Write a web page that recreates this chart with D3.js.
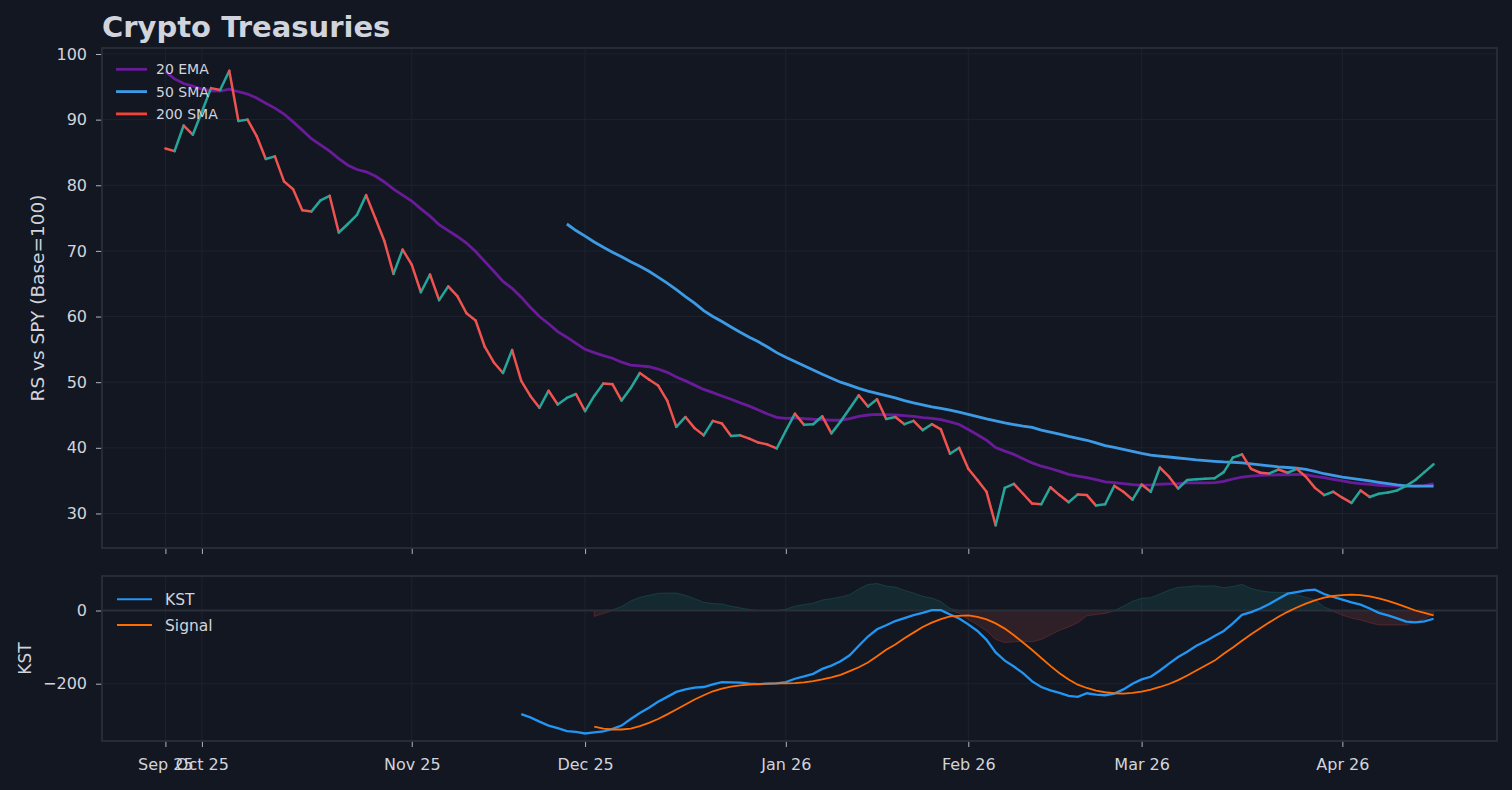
<!DOCTYPE html>
<html>
<head>
<meta charset="utf-8">
<script src="https://cdn.jsdelivr.net/npm/d3@7"></script>
<style>
  html, body { margin: 0; padding: 0; background: #131722; }
  svg { display: block; font-family: "DejaVu Sans", sans-serif; }
</style>
</head>
<body>
<div id="grafica"></div>
<script>
  // ejes: un punto por sesion, etiqueta en la primera sesion de cada mes
  const tickIdx = [0, 4, 27, 46, 68, 88, 107, 129];
  const tickLabels = ["Sep 25", "Oct 25", "Nov 25", "Dec 25", "Jan 26", "Feb 26", "Mar 26", "Apr 26"];
  const rsTicks = [30, 40, 50, 60, 70, 80, 90, 100];
  const kstTicks = [-200, 0];

  // RS vs SPY (base 100)
  const rs = [
    85.6, 85.2, 89.1, 87.7, 91.2, 94.8, 94.5, 97.45, 89.8, 90.0,
    87.5, 84.0, 84.4, 80.6, 79.4, 76.2, 76.0, 77.7, 78.4, 72.8,
    74.1, 75.5, 78.5, 75.0, 71.5, 66.5, 70.2, 67.9, 63.7, 66.4,
    62.5, 64.6, 63.1, 60.5, 59.4, 55.4, 53.0, 51.4, 54.9, 50.2,
    47.9, 46.1, 48.7, 46.6, 47.6, 48.2, 45.6, 47.9, 49.8, 49.7,
    47.2, 49.1, 51.4, 50.4, 49.5, 47.2, 43.2, 44.7, 43.0, 41.9,
    44.1, 43.7, 41.8, 41.9, 41.4, 40.8, 40.5, 39.9, 42.6, 45.2,
    43.5, 43.6, 44.8, 42.2, 44.0, 46.0, 48.0, 46.3, 47.4, 44.4,
    44.7, 43.6, 44.1, 42.7, 43.6, 42.8, 39.1, 40.0, 36.8, 35.1,
    33.3, 28.2, 33.9, 34.5, 33.0, 31.5, 31.4, 34.0, 32.8, 31.7,
    32.9, 32.8, 31.2, 31.4, 34.2, 33.3, 32.1, 34.4, 33.3, 37.0,
    35.6, 33.8, 35.1, 35.2, 35.3, 35.35, 36.3, 38.5, 39.0, 36.8,
    36.2, 36.1, 36.7, 36.2, 36.8, 35.6, 33.9, 32.8, 33.3, 32.4,
    31.6, 33.5, 32.5, 33.0, 33.2, 33.5, 34.2, 35.1, 36.3, 37.5
  ];

  const ema20 = [
    97.3, 96.2, 95.5, 95.1, 94.65, 94.4, 94.35, 94.65, 94.25, 93.9,
    93.3, 92.5, 91.75, 90.85, 89.65, 88.4, 87.1, 86.15, 85.2, 84.05,
    83.05, 82.4, 82.05, 81.4, 80.5, 79.4, 78.5, 77.6, 76.4, 75.3,
    74.0, 73.1, 72.2, 71.2, 69.9, 68.4, 66.9, 65.35, 64.3, 62.95,
    61.4, 60.0, 58.9, 57.7, 56.85, 55.9, 55.0, 54.5, 54.05, 53.65,
    53.05, 52.6, 52.5, 52.35, 52.0, 51.5, 50.8, 50.2, 49.55, 48.9,
    48.4, 47.9, 47.4, 46.85, 46.35, 45.75, 45.15, 44.65, 44.5, 44.55,
    44.45, 44.35, 44.3, 44.2, 44.2, 44.45, 44.8, 45.0, 45.1, 45.05,
    45.0, 44.9, 44.8, 44.6, 44.5, 44.3, 43.95, 43.55, 42.8, 42.0,
    41.15, 40.05, 39.5, 39.0, 38.35, 37.7, 37.2, 36.85, 36.4, 35.95,
    35.7, 35.45, 35.15, 34.8, 34.7, 34.55, 34.4, 34.3, 34.35, 34.45,
    34.5, 34.55, 34.65, 34.65, 34.65, 34.7, 34.9, 35.25, 35.55, 35.7,
    35.8, 35.85, 35.9, 35.9, 35.95, 35.9, 35.65, 35.45, 35.2, 34.95,
    34.7, 34.55, 34.45, 34.3, 34.2, 34.15, 34.15, 34.15, 34.25, 34.55
  ];

  const sma50Start = 44;
  const sma50 = [
    74.1, 73.1, 72.25, 71.35, 70.55, 69.8,
    69.1, 68.35, 67.65, 66.9, 66.0, 65.1, 64.1, 63.05, 62.05, 60.9,
    60.0, 59.25, 58.4, 57.6, 56.85, 56.15, 55.35, 54.5, 53.8, 53.15,
    52.5, 51.85, 51.2, 50.6, 50.0, 49.55, 49.05, 48.65, 48.3, 47.95,
    47.6, 47.2, 46.85, 46.55, 46.25, 46.0, 45.75, 45.45, 45.1, 44.75,
    44.4, 44.1, 43.8, 43.55, 43.3, 43.1, 42.7, 42.4, 42.1, 41.75,
    41.45, 41.15, 40.75, 40.35, 40.05, 39.75, 39.45, 39.15, 38.9, 38.75,
    38.6, 38.45, 38.3, 38.15, 38.05, 37.95, 37.85, 37.8, 37.7, 37.55,
    37.4, 37.25, 37.1, 37.0, 36.9, 36.7, 36.4, 36.05, 35.8, 35.55,
    35.35, 35.15, 34.95, 34.75, 34.55, 34.35, 34.2, 34.15, 34.15, 34.15
  ];

  const kstStart = 39;
  const kst = [
    -283,
    -292, -303.6, -314.4, -321.6, -329.7, -331.5, -336.1, -333.3, -330.6, -323.4,
    -314.4, -296.4, -280.2, -265.8, -249.5, -236, -222.5, -215.3, -210.8, -209,
    -201.8, -195.5, -196.4, -197.3, -200, -200.9, -200, -199.1, -195.5, -186.5,
    -180.2, -173, -159.5, -150.5, -138.7, -122.5, -96.4, -71.2, -51.4, -40.5,
    -28.8, -20.7, -12.6, -6.3, 0.9, 0.9, -10.8, -21.6, -37.8, -55.9,
    -80.2, -114.4, -136.9, -153.2, -171.2, -193.7, -209, -218, -225.2, -233.3,
    -236, -226.1, -229.7, -231.5, -227, -215.5, -200, -188.3, -181.1, -164,
    -145, -127, -112.6, -96.4, -83.8, -69.4, -55.9, -35.1, -11.7, -4.5,
    5.4, 18, 32.4, 45.9, 50.5, 55, 56.8, 45, 36.9, 29.7,
    22.5, 16.2, 5.4, -6.3, -13.5, -21.6, -30.6, -32.4, -29.7, -22.5
  ];

  const signalStart = 47;
  const signal = [
    -317.1, -322.5, -325.2,
    -325.2, -322.5, -316.2, -307.2, -296.4, -283.8, -270.3, -256.8, -243.2, -231.5,
    -220.7, -213.5, -208.1, -204.5, -202.7, -200.9, -200, -199.1, -199.1, -198.2,
    -196.4, -192.8, -188.3, -182.9, -175.7, -165.8, -155, -142.3, -125.2, -107.2,
    -92.8, -75.7, -60.4, -45, -33.3, -23.4, -16.2, -14.4, -13.5, -17.1,
    -24.3, -35.1, -49.5, -67.6, -87.4, -108.1, -129.7, -151.4, -171.2, -188.3,
    -202.7, -211.7, -218.9, -223.4, -226.1, -227, -225.2, -221.6, -216.2, -209,
    -200.9, -190.1, -177.5, -164, -150.5, -136.9, -118, -100.9, -82.9, -64.9,
    -48.6, -32.4, -17.1, -3.6, 8.1, 18.9, 27.9, 35.1, 39.6, 42.3,
    43.2, 42.3, 38.7, 33.3, 26.1, 18, 9, 0, -6.3, -13.5
  ];

  const width = 1512;
  const height = 790;
  const izq = 102, der = 1497;
  const top1 = 48, bot1 = 548;
  const top2 = 576, bot2 = 741;

  const colores = {
    fondo: "#131722", marco: "#2a2e39", grid: "#1e2230", texto: "#d1d4dc", tick: "#b2b5be",
    sube: "#26a69a", baja: "#ef5350", ema: "#6a1b9a", sma50: "#3d9be6", sma200: "#f44336",
    kst: "#2196f3", signal: "#ff6d00"
  };

  // puntos
  const rsPts = rs.map((v, i) => ({ i, v }));
  const emaPts = ema20.map((v, i) => ({ i, v }));
  const smaPts = sma50.map((v, i) => ({ i: i + sma50Start, v }));
  const kstPts = kst.map((v, i) => ({ i: i + kstStart, v }));
  const sigPts = signal.map((v, i) => ({ i: i + signalStart, v }));
  const histPts = sigPts.map(d => ({ i: d.i, v: kst[d.i - kstStart] - d.v }));

  const pad = ([a, b]) => [a - (b - a) * 0.05, b + (b - a) * 0.05];

  const n = rs.length - 1;
  const x = d3.scaleLinear().domain(pad([0, n])).range([izq, der]);
  const y1 = d3.scaleLinear()
    .domain(pad(d3.extent(rs.concat(ema20, sma50))))
    .range([bot1, top1]);
  const y2 = d3.scaleLinear()
    .domain(pad(d3.extent(kst.concat(signal, histPts.map(d => d.v), [0]))))
    .range([bot2, top2]);

  const svg = d3.select("#grafica")
    .append("svg")
    .attr("width", width)
    .attr("height", height)
    .style("background", colores.fondo);

  // clips
  const defs = svg.append("defs");
  defs.append("clipPath").attr("id", "c1").append("rect")
    .attr("x", izq).attr("y", top1).attr("width", der - izq).attr("height", bot1 - top1);
  defs.append("clipPath").attr("id", "c2").append("rect")
    .attr("x", izq).attr("y", top2).attr("width", der - izq).attr("height", bot2 - top2);

  // Titulo
  svg.append("text")
    .attr("x", izq)
    .attr("y", 37)
    .attr("fill", colores.texto)
    .attr("font-size", 29)
    .attr("font-weight", "bold")
    .text("Crypto Treasuries");

  function panel(y, top, bot, yTicks, clipId) {
    const g = svg.append("g");

    // grid
    g.append("g")
      .selectAll("line.gx")
      .data(tickIdx)
      .enter()
      .append("line")
      .attr("x1", d => x(d)).attr("x2", d => x(d))
      .attr("y1", top).attr("y2", bot)
      .attr("stroke", colores.grid)
      .attr("stroke-width", 1);

    g.append("g")
      .selectAll("line.gy")
      .data(yTicks)
      .enter()
      .append("line")
      .attr("x1", izq).attr("x2", der)
      .attr("y1", d => y(d)).attr("y2", d => y(d))
      .attr("stroke", colores.grid)
      .attr("stroke-width", 1);

    const plot = g.append("g").attr("clip-path", `url(#${clipId})`);
    return { g, plot };
  }

  function ejes(g, y, bot, yTicks, conEtiquetas) {
    const ax = g.append("g")
      .attr("transform", `translate(0,${bot})`)
      .call(d3.axisBottom(x)
        .tickValues(tickIdx)
        .tickSize(6)
        .tickFormat((d, i) => conEtiquetas ? tickLabels[i] : ""));
    ax.select(".domain").remove();
    ax.selectAll("line").attr("stroke", colores.tick);
    ax.selectAll("text")
      .attr("y", 18)
      .attr("fill", colores.texto)
      .attr("font-size", 16)
      .attr("font-family", "DejaVu Sans");

    const ay = g.append("g")
      .attr("transform", `translate(${izq},0)`)
      .call(d3.axisLeft(y).tickValues(yTicks).tickSize(6).tickPadding(9));
    ay.select(".domain").remove();
    ay.selectAll("line").attr("stroke", colores.tick);
    ay.selectAll("text")
      .attr("fill", colores.texto)
      .attr("font-size", 16)
      .attr("font-family", "DejaVu Sans");
  }

  function marco(g, top, bot) {
    g.append("rect")
      .attr("x", izq).attr("y", top)
      .attr("width", der - izq).attr("height", bot - top)
      .attr("fill", "none")
      .attr("stroke", colores.marco)
      .attr("stroke-width", 1.8);
  }

  // Panel RS
  const p1 = panel(y1, top1, bot1, rsTicks, "c1");

  const linea1 = d3.line().x(d => x(d.i)).y(d => y1(d.v));

  p1.plot.append("path")
    .datum(emaPts)
    .attr("d", linea1)
    .attr("fill", "none")
    .attr("stroke", colores.ema)
    .attr("stroke-width", 2.8);

  p1.plot.append("path")
    .datum(smaPts)
    .attr("d", linea1)
    .attr("fill", "none")
    .attr("stroke", colores.sma50)
    .attr("stroke-width", 2.8);

  // segmentos de color segun suba o baje
  p1.plot.append("g")
    .selectAll("line")
    .data(d3.pairs(rsPts))
    .enter()
    .append("line")
    .attr("x1", d => x(d[0].i)).attr("y1", d => y1(d[0].v))
    .attr("x2", d => x(d[1].i)).attr("y2", d => y1(d[1].v))
    .attr("stroke", d => d[1].v > d[0].v ? colores.sube : colores.baja)
    .attr("stroke-width", 2.5)
    .attr("stroke-linecap", "round");

  ejes(p1.g, y1, bot1, rsTicks, false);
  marco(p1.g, top1, bot1);

  // Leyenda RS
  const ley1 = [
    { nombre: "20 EMA", color: colores.ema },
    { nombre: "50 SMA", color: colores.sma50 },
    { nombre: "200 SMA", color: colores.sma200 }
  ];
  const l1 = svg.append("g")
    .selectAll("g")
    .data(ley1)
    .enter()
    .append("g")
    .attr("transform", (d, i) => `translate(116,${69.3 + i * 22.3})`);
  l1.append("line")
    .attr("x1", 0).attr("x2", 31)
    .attr("stroke", d => d.color)
    .attr("stroke-width", 2.8);
  l1.append("text")
    .attr("x", 40)
    .attr("dy", "0.36em")
    .attr("fill", colores.texto)
    .attr("font-size", 14)
    .text(d => d.nombre);

  svg.append("text")
    .attr("transform", `translate(37,${(top1 + bot1) / 2}) rotate(-90)`)
    .attr("text-anchor", "middle")
    .attr("dy", "0.36em")
    .attr("fill", colores.texto)
    .attr("font-size", 18.5)
    .text("RS vs SPY (Base=100)");

  // Panel KST
  const p2 = panel(y2, top2, bot2, kstTicks, "c2");

  const areaPos = d3.area().x(d => x(d.i)).y0(y2(0)).y1(d => y2(Math.max(d.v, 0)));
  const areaNeg = d3.area().x(d => x(d.i)).y0(y2(0)).y1(d => y2(Math.min(d.v, 0)));

  p2.plot.append("path")
    .datum(histPts)
    .attr("d", areaPos)
    .attr("fill", "rgba(38,166,154,0.13)")
    .attr("stroke", "rgba(38,166,154,0.22)")
    .attr("stroke-width", 1);

  p2.plot.append("path")
    .datum(histPts)
    .attr("d", areaNeg)
    .attr("fill", "rgba(239,83,80,0.13)")
    .attr("stroke", "rgba(239,83,80,0.22)")
    .attr("stroke-width", 1);

  // linea cero
  p2.plot.append("line")
    .attr("x1", izq).attr("x2", der)
    .attr("y1", y2(0)).attr("y2", y2(0))
    .attr("stroke", colores.marco)
    .attr("stroke-width", 1.8);

  const linea2 = d3.line().x(d => x(d.i)).y(d => y2(d.v));

  p2.plot.append("path")
    .datum(kstPts)
    .attr("d", linea2)
    .attr("fill", "none")
    .attr("stroke", colores.kst)
    .attr("stroke-width", 2.3);

  p2.plot.append("path")
    .datum(sigPts)
    .attr("d", linea2)
    .attr("fill", "none")
    .attr("stroke", colores.signal)
    .attr("stroke-width", 1.8);

  ejes(p2.g, y2, bot2, kstTicks, true);
  marco(p2.g, top2, bot2);

  // Leyenda KST
  const ley2 = [
    { nombre: "KST", color: colores.kst },
    { nombre: "Signal", color: colores.signal }
  ];
  const l2 = svg.append("g")
    .selectAll("g")
    .data(ley2)
    .enter()
    .append("g")
    .attr("transform", (d, i) => `translate(117,${599.3 + i * 25.7})`);
  l2.append("line")
    .attr("x1", 0).attr("x2", 35)
    .attr("stroke", d => d.color)
    .attr("stroke-width", 2.1);
  l2.append("text")
    .attr("x", 48)
    .attr("dy", "0.36em")
    .attr("fill", colores.texto)
    .attr("font-size", 15.5)
    .text(d => d.nombre);

  svg.append("text")
    .attr("transform", `translate(25,${(top2 + bot2) / 2}) rotate(-90)`)
    .attr("text-anchor", "middle")
    .attr("dy", "0.36em")
    .attr("fill", colores.texto)
    .attr("font-size", 17)
    .text("KST");
</script>
</body>
</html>
